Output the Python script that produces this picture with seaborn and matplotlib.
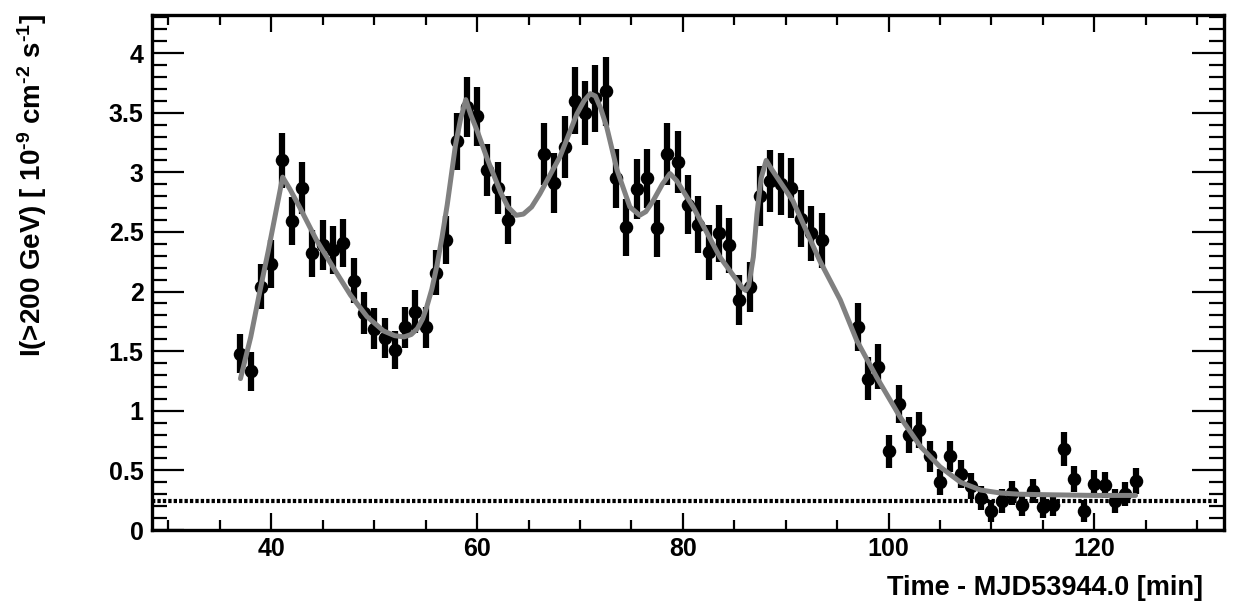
import numpy as np
import pandas as pd
import matplotlib
matplotlib.use("Agg")
import matplotlib.pyplot as plt
from matplotlib.ticker import MultipleLocator, FormatStrFormatter
import seaborn as sns

# measured light curve (1-min bins)
time_min = [37, 38, 39, 40, 41, 42, 43, 44, 45, 46, 47, 48, 49, 50, 51, 52, 53, 54, 55,
            56, 57, 58, 59, 60, 61, 62, 63,
            66.5, 67.5, 68.5, 69.5, 70.5, 71.5, 72.5, 73.5, 74.5, 75.5, 76.5, 77.5,
            78.5, 79.5, 80.5, 81.5, 82.5, 83.5, 84.5, 85.5, 86.5, 87.5, 88.5, 89.5,
            90.5, 91.5, 92.5, 93.5,
            97, 98, 99, 100, 101, 102, 103, 104, 105, 106, 107, 108, 109, 110, 111,
            112, 113, 114, 115, 116, 117, 118, 119, 120, 121, 122, 123, 124]
flux = [1.48, 1.33, 2.04, 2.23, 3.10, 2.59, 2.87, 2.32, 2.39, 2.35, 2.41, 2.09, 1.82,
        1.69, 1.61, 1.51, 1.70, 1.83, 1.70, 2.16, 2.43, 3.26, 3.55, 3.47, 3.02, 2.87, 2.60,
        3.15, 2.91, 3.21, 3.60, 3.50, 3.62, 3.68, 2.95, 2.54, 2.86, 2.95, 2.53,
        3.15, 3.09, 2.73, 2.56, 2.33, 2.49, 2.39, 1.93, 2.04, 2.80, 2.93, 2.90,
        2.87, 2.61, 2.49, 2.43,
        1.70, 1.27, 1.37, 0.66, 1.06, 0.80, 0.84, 0.62, 0.40, 0.62, 0.47, 0.37, 0.27,
        0.16, 0.24, 0.31, 0.21, 0.33, 0.19, 0.21, 0.68, 0.43, 0.16, 0.39, 0.38, 0.24,
        0.30, 0.41]
flux_err = [0.16, 0.16, 0.19, 0.20, 0.23, 0.20, 0.22, 0.20, 0.21, 0.20, 0.20, 0.19, 0.18,
            0.17, 0.17, 0.16, 0.17, 0.18, 0.17, 0.19, 0.20, 0.24, 0.25, 0.25, 0.22, 0.22, 0.20,
            0.26, 0.25, 0.26, 0.28, 0.27, 0.28, 0.29, 0.25, 0.24, 0.25, 0.25, 0.24,
            0.26, 0.26, 0.25, 0.24, 0.23, 0.24, 0.23, 0.21, 0.21, 0.25, 0.26, 0.26,
            0.25, 0.24, 0.23, 0.23,
            0.20, 0.18, 0.19, 0.14, 0.16, 0.15, 0.15, 0.13, 0.11, 0.13, 0.12, 0.11, 0.10,
            0.09, 0.10, 0.10, 0.09, 0.10, 0.09, 0.09, 0.14, 0.11, 0.09, 0.11, 0.11, 0.10,
            0.10, 0.11]

# fitted burst model
fit_t = [37.0, 38.0, 38.9, 39.7, 40.4, 41.1, 41.8, 42.8, 44.4, 46.1, 47.7, 49.3, 50.9,
         52.0, 52.9, 53.6, 54.2, 54.7, 55.1, 55.6, 56.1, 56.6, 57.1, 57.5, 57.9, 58.4,
         58.9, 59.4, 60.0, 61.0, 62.3, 63.0, 63.8, 64.5, 65.3, 66.1, 67.1, 68.05, 69.7,
         70.4, 71.0, 71.5, 72.0, 72.6, 73.6, 74.85, 75.8, 76.4, 77.1, 78.0, 78.75, 79.4,
         81.0, 83.6, 85.2, 85.8, 86.1, 86.4, 86.85, 87.2, 87.6, 88.1, 88.6, 90.7, 93.3,
         95.3, 96.9, 98.85, 101.1, 103.1, 105.0, 107.0, 108.95, 110.9, 112.8, 116.0,
         120.0, 124.0]
fit_flux = [1.27, 1.62, 2.01, 2.34, 2.65, 2.96, 2.86, 2.70, 2.43, 2.19, 1.97, 1.79, 1.67,
            1.63, 1.62, 1.64, 1.69, 1.77, 1.87, 2.02, 2.22, 2.46, 2.73, 2.98, 3.23, 3.45,
            3.61, 3.48, 3.35, 3.11, 2.83, 2.71, 2.64, 2.65, 2.71, 2.82, 2.98, 3.13, 3.49,
            3.60, 3.66, 3.64, 3.54, 3.38, 3.02, 2.71, 2.64, 2.67, 2.76, 2.90, 2.99, 2.93,
            2.71, 2.29, 2.10, 2.03, 2.01, 2.05, 2.29, 2.65, 2.95, 3.10, 3.03, 2.76, 2.26,
            1.93, 1.59, 1.28, 0.95, 0.70, 0.53, 0.40, 0.335, 0.31, 0.30, 0.295,
            0.29, 0.29]

baseline = 0.245

points = pd.DataFrame({"t": time_min, "flux": flux, "err": flux_err})
fit = pd.DataFrame({"t": fit_t, "flux": fit_flux})

sns.set_style("ticks")
plt.rcParams["font.family"] = ["Liberation Sans", "DejaVu Sans"]
plt.rcParams["font.weight"] = "bold"
plt.rcParams["text.color"] = "black"
plt.rcParams["xtick.color"] = "black"
plt.rcParams["ytick.color"] = "black"
plt.rcParams["mathtext.fontset"] = "custom"
plt.rcParams["mathtext.rm"] = "Liberation Sans:bold"
plt.rcParams["mathtext.bf"] = "Liberation Sans:bold"
plt.rcParams["mathtext.default"] = "rm"

fig = plt.figure(figsize=(12.42, 6.07), dpi=100)
ax = fig.add_axes([152 / 1242, 1 - 530 / 607, (1224 - 152) / 1242, (530 - 15) / 607])

# background level
ax.plot([28.4, 131.9], [baseline, baseline], color="black", lw=3.0,
        ls=(0, (0.8, 0.5)), zorder=1, dash_capstyle="butt")
ax.errorbar(points["t"], points["flux"], yerr=points["err"], fmt="none",
            ecolor="black", elinewidth=4.5, capsize=0, zorder=2)
sns.scatterplot(data=points, x="t", y="flux", ax=ax, color="black", s=95,
                edgecolor="black", linewidth=0, zorder=3)
sns.lineplot(data=fit, x="t", y="flux", ax=ax, color="#808080", lw=3.6,
             sort=False, zorder=4)

ax.set_xlim(28.4, 132.6)
ax.set_ylim(0, 4.32)
ax.xaxis.set_major_locator(MultipleLocator(20))
ax.xaxis.set_minor_locator(MultipleLocator(5))
ax.yaxis.set_major_locator(MultipleLocator(0.5))
ax.yaxis.set_minor_locator(MultipleLocator(0.1))
ax.yaxis.set_major_formatter(FormatStrFormatter("%g"))

ax.tick_params(axis="both", which="both", direction="in", top=True, right=True,
               width=1.6, color="black", labelcolor="black")
ax.tick_params(axis="y", which="major", length=23, labelsize=18, pad=6)
ax.tick_params(axis="y", which="minor", length=11)
ax.tick_params(axis="x", which="major", length=12, labelsize=18, pad=5)
ax.tick_params(axis="x", which="minor", length=7)
for sp in ax.spines.values():
    sp.set_linewidth(2.4)
    sp.set_color("black")

ax.set_xlabel("")
ax.set_ylabel("")
fig.text(1203 / 1242, 1 - 595 / 607, "Time - MJD53944.0 [min]", ha="right",
         va="baseline", fontsize=19.5, fontweight="bold", color="black")
fig.text(32 / 1242, 1 - 14 / 607,
         r"I(>200 GeV) [ 10$^{\text{-9}}$ cm$^{\text{-2}}$ s$^{\text{-1}}$]",
         rotation=90, ha="center", va="top", fontsize=20, fontweight="bold",
         color="black")

fig.savefig("out.png", dpi=100)
